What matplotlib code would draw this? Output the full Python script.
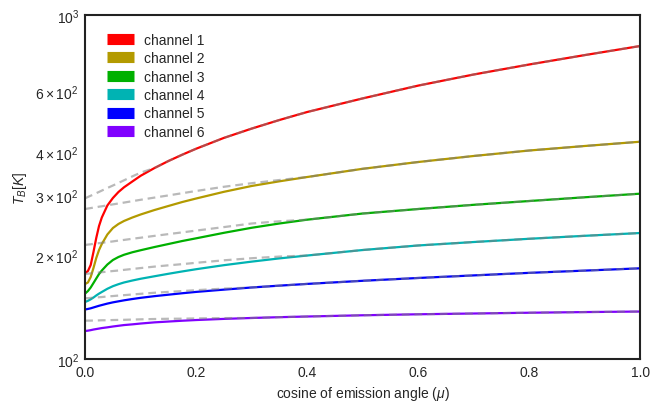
import numpy as np
import matplotlib
matplotlib.use('Agg')
import matplotlib.pyplot as plt
import seaborn as sns

# cosine of emission angle sample points
mu = [0.0, 0.005, 0.01, 0.015, 0.02, 0.025, 0.03, 0.04, 0.05, 0.06, 0.07, 0.085, 0.1,
      0.125, 0.15, 0.175, 0.2, 0.25, 0.3, 0.35, 0.4, 0.5, 0.6, 0.7, 0.8, 0.9, 1.0]

# brightness temperature (K)
tb_ch1 = [177.8, 180.2, 187.6, 204.7, 224.8, 243.6, 257.8, 279.4, 293.8, 305.8, 315.6, 328.1, 340.9,
          359.1, 376.3, 392.6, 408.6, 439.3, 467.5, 495.2, 522.4, 572.2, 623.4, 671.5, 718.0, 764.6, 812.6]
tb_ch2 = [165.2, 166.9, 173.1, 183.9, 196.6, 207.4, 215.9, 230.1, 240.3, 246.9, 251.9, 257.8, 263.1,
          271.1, 278.5, 286.0, 292.8, 306.2, 318.4, 328.5, 338.1, 357.2, 373.8, 389.2, 403.7, 416.1, 428.2]
tb_ch3 = [155.0, 157.6, 161.4, 166.3, 171.4, 176.6, 180.8, 188.2, 194.0, 197.9, 200.9, 204.3, 207.1,
          211.6, 215.9, 220.3, 224.3, 232.7, 240.7, 247.7, 254.1, 264.8, 272.9, 280.7, 287.9, 295.2, 302.4]
tb_ch4 = [146.5, 147.6, 149.1, 150.9, 153.0, 154.9, 156.6, 160.0, 162.8, 165.0, 166.9, 169.1, 171.1,
          174.0, 176.9, 179.7, 182.4, 187.4, 191.9, 196.1, 199.9, 207.4, 213.8, 218.8, 223.6, 228.1, 232.4]
tb_ch5 = [139.3, 139.8, 140.4, 141.2, 142.0, 142.8, 143.5, 144.9, 146.1, 147.1, 148.1, 149.4, 150.6,
          152.3, 153.8, 155.3, 156.7, 159.1, 161.4, 163.4, 165.3, 168.8, 172.0, 175.0, 178.0, 180.7, 183.5]
tb_ch6 = [120.6, 120.9, 121.3, 121.8, 122.2, 122.6, 123.0, 123.6, 124.3, 124.9, 125.5, 126.1, 126.8,
          127.8, 128.5, 129.2, 129.8, 130.8, 131.6, 132.3, 132.9, 134.0, 134.9, 135.6, 136.3, 136.9, 137.4]

# limb-darkening fits (grey dashed)
fit_ch1 = [293.2, 295.8, 298.3, 300.7, 303.4, 306.0, 308.7, 314.1, 319.4, 325.0, 330.7, 339.5, 348.2,
           359.1, 376.3, 392.6, 408.6, 439.3, 467.5, 495.2, 522.4, 572.2, 623.4, 671.5, 718.0, 764.6, 812.6]
fit_ch2 = [272.9, 273.8, 274.6, 275.5, 276.2, 277.2, 277.9, 279.8, 281.5, 283.2, 284.9, 287.6, 290.3,
           294.6, 298.9, 303.4, 307.9, 316.7, 324.4, 331.4, 338.1, 357.2, 373.8, 389.2, 403.7, 416.1, 428.2]
fit_ch3 = [214.5, 215.1, 215.5, 216.1, 216.7, 217.1, 217.7, 218.7, 219.7, 220.9, 221.9, 223.6, 225.2,
           228.0, 230.7, 233.4, 236.2, 241.8, 247.7, 251.4, 254.1, 264.8, 272.9, 280.7, 287.9, 295.2, 302.4]
fit_ch4 = [176.6, 177.0, 177.4, 177.7, 178.1, 178.4, 178.8, 179.5, 180.2, 180.8, 181.6, 182.7, 183.8,
           185.6, 187.2, 188.7, 190.4, 193.6, 196.3, 198.5, 199.9, 207.4, 213.8, 218.8, 223.6, 228.1, 232.4]
fit_ch5 = [150.1, 150.3, 150.5, 150.8, 151.0, 151.2, 151.4, 152.0, 152.4, 152.9, 153.3, 154.0, 154.7,
           155.8, 156.7, 157.6, 158.5, 160.2, 161.4, 163.4, 165.3, 168.8, 172.0, 175.0, 178.0, 180.7, 183.5]
fit_ch6 = [129.2, 129.3, 129.3, 129.4, 129.4, 129.5, 129.6, 129.6, 129.8, 129.9, 130.0, 130.2, 130.4,
           130.7, 130.9, 131.0, 131.2, 131.5, 131.6, 132.3, 132.9, 134.0, 134.9, 135.6, 136.3, 136.9, 137.4]

labels = ['channel 1', 'channel 2', 'channel 3', 'channel 4', 'channel 5', 'channel 6']
colors = ['#ff0000', '#b39a00', '#00b000', '#00b3b3', '#0000ff', '#8000ff']

sns.set_style('white')
plt.rcParams['font.family'] = ['Liberation Sans', 'DejaVu Sans']
plt.rcParams['mathtext.fontset'] = 'custom'
plt.rcParams['mathtext.rm'] = 'Liberation Sans'
plt.rcParams['mathtext.it'] = 'Liberation Sans:italic'

fig = plt.figure(figsize=(6.5, 4.06), dpi=100)
ax = fig.add_axes([0.131, 0.1133, 0.854, 0.8473])

tbs = [tb_ch1, tb_ch2, tb_ch3, tb_ch4, tb_ch5, tb_ch6]
fits = [fit_ch1, fit_ch2, fit_ch3, fit_ch4, fit_ch5, fit_ch6]
for tb, lab, c in zip(tbs, labels, colors):
    ax.plot(mu, tb, color=c, lw=1.6, label=lab, solid_capstyle='butt')
for f in fits:
    ax.plot(mu, f, color='gray', alpha=0.55, lw=1.6, linestyle=(0, (3.5, 2.2)))

ax.set_yscale('log')
ax.set_ylim(100, 1000)
ax.set_xlim(0, 1)
ax.tick_params(labelsize=10, length=0, pad=4)
for s in ax.spines.values():
    s.set_color('#222222')
    s.set_linewidth(1.5)

ax.set_xlabel(r'cosine of emission angle ($\mu$)', fontsize=10)
ax.set_ylabel(r'$T_B [K]$', fontsize=10)

leg = ax.legend(loc='upper left', fontsize=10, frameon=False, handlelength=1.95,
                handletextpad=0.7, labelspacing=0.32, bbox_to_anchor=(0.017, 0.985))
for ln in leg.get_lines():
    ln.set_linewidth(8)
    ln.set_solid_capstyle('butt')

fig.savefig('out.png', dpi=100)
